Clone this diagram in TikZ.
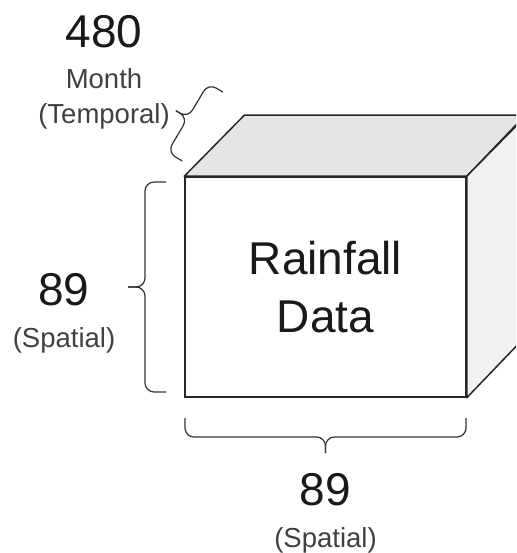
\documentclass[tikz,border=0pt]{standalone}
\usepackage{fontspec}
\setmainfont{Liberation Sans}
\usetikzlibrary{positioning}
\tikzstyle{face} = [draw=black!85, line width=1.5pt, fill=white, rectangle, inner sep=0pt, minimum width=281pt, minimum height=220pt]
\tikzstyle{topface} = [draw=black!85, line width=1.5pt, fill=black!10, line join=round]
\tikzstyle{sideface} = [draw=black!85, line width=1.5pt, fill=black!5, line join=round]
\tikzstyle{bracket} = [draw=black!80, line width=1.2pt, rounded corners=9pt]
\tikzstyle{num} = [inner sep=0pt, font=\fontsize{46}{57}\selectfont, text=black!90]
\tikzstyle{dim} = [inner sep=0pt, font=\fontsize{27.5}{33}\selectfont, text=black!75]
% curly brace: half length, body offset, tip offset
\tikzset{pics/curly/.style n args={3}{code={
	\draw [bracket] (0,-#1) -- (-#2,-#1) -- (-#2,0) -- (-#3,0);
	\draw [bracket] (0,#1) -- (-#2,#1) -- (-#2,0) -- (-#3,0);
}}}

\begin{document}
\begin{tikzpicture}[x=1pt, y=-1pt]
		\clip (0,0) rectangle (516,553);
		\useasboundingbox (0,0) rectangle (516,553);

		% the cube
		\node (front) [face, align=center, font=\fontsize{46}{58}\selectfont, text=black!90] at (325.5,287) {Rainfall\\Data};
		\draw [topface] (front.north west) -- ++(60,-61) -- ++(281,0) -- (front.north east) -- cycle;
		\draw [sideface] (front.north east) -- ++(60,-61) -- ++(0,220) -- (front.south east) -- cycle;

		% braces
		\pic [rotate=-30.7] (tbrace) at (202.5,126.5) {curly={40}{17}{31}};
		\pic (lbrace) at (166,287) {curly={105}{21}{38}};
		\pic [rotate=90] (bbrace) at (325.5,418) {curly={140.5}{19}{35}};

		% labels
		\node (tnum) [num] at (104,32) {480};
		\node (tmonth) [dim, below=19.5pt of tnum] {Month};
		\node (ttemp) [dim, below=15pt of tmonth] {(Temporal)};

		\node (lnum) [num] at (64,290) {89};
		\node (ldim) [dim, below=21pt of lnum] {(Spatial)};

		\node (bnum) [num] at (325.5,490) {89};
		\node (bdim) [dim, below=21pt of bnum] {(Spatial)};
	\end{tikzpicture}
\end{document}
